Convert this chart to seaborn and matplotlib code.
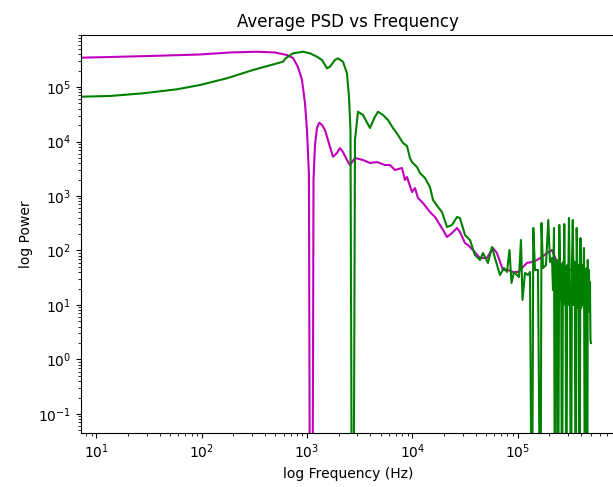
import matplotlib
matplotlib.use("Agg")
import matplotlib.pyplot as plt
import seaborn as sns
import pandas as pd

# ---- data (frequency in Hz, power) ----
magenta_freq = [7.13, 13.4, 32.2, 96, 185, 334, 496, 644, 735, 820, 895, 955, 998,
                1042, 1066, 1125, 1151, 1189, 1242, 1306, 1386, 1479, 1649, 1762,
                1923, 2052, 2193, 2393, 2553, 2851, 3396, 3958, 4613, 5495, 6124,
                6839, 7963, 8511, 8892, 9908, 10590, 11300, 12620, 14690, 16400,
                18280, 19540, 21330, 23780, 26540, 28320, 31620, 33750, 37590,
                43850, 51050, 58210, 63530, 72440, 80840, 90160, 100700, 109900,
                122500, 136700, 152500, 170100, 189800, 211800, 236100, 269200,
                314000, 365600, 416900, 465600]
magenta_power = [345000, 355000, 371000, 395000, 430000, 444000, 430000, 386000,
                 340000, 233000, 134000, 50800, 16300, 2430, 1e-4, 1e-4, 1970,
                 8630, 17700, 22100, 20100, 16300, 8030, 5260, 6150, 7600, 6420,
                 4580, 3700, 4980, 4580, 4030, 4200, 3700, 3700, 3000, 3260, 1970,
                 2230, 1180, 1400, 919, 744, 508, 412, 294, 238, 177, 209, 259, 218,
                 137, 126, 102, 72.8, 72.8, 111, 90, 43.9, 43.9, 40.4, 40.4, 47.7,
                 59, 61.5, 67, 76, 90, 102, 61.5, 54.2, 43.9, 49.8, 32.7, 25.4]

green_freq = [7.13, 13.4, 27.6, 58.1, 96, 173, 306, 518, 590, 630,
              658, 735, 802, 914, 1066, 1242, 1386, 1545, 1649, 1841,
              1965, 2193, 2393, 2500, 2584, 2670, 2759, 2851, 3044, 3396,
              3958, 4414, 4713, 5258, 5866, 6543, 7300, 8144, 8892, 9490,
              9908, 11060, 11810, 13170, 14690, 15700, 17510, 19100, 21330, 23780,
              26540, 28320, 31620, 35240, 39310, 43850, 46820, 52240, 57020, 60860,
              67910, 74120, 79130, 83600, 87330, 92230, 98480, 102900, 107500,
              111100, 117300, 125300, 130900, 136700, 140700, 146000, 155900,
              164700, 168300, 173900, 185700, 195300, 202700,
              211800, 216480, 218860, 221270, 226100, 229590, 233600, 237200,
              241400, 248400, 252200, 255000, 258900, 263400, 269200, 272800,
              277100, 281400, 285100, 289400, 295800, 300400, 307000, 314000,
              320700, 327800, 333600, 342400, 348400, 355400, 363300, 368100,
              373600, 380200, 386100, 394700, 400800, 407900, 416900, 426200,
              435700, 441500, 445300, 451200, 458100, 463100, 469200, 475500,
              481800, 486000, 491300, 496600]
green_power = [66400, 68400, 76600, 90800, 108800, 144400, 205000, 272000, 291000, 340000,
               360000, 415000, 426000, 444000, 415000, 360000, 313000, 220000, 236000, 313000,
               336000, 291000, 178000, 66400, 16300, 1e-4, 1e-4, 10650, 35200, 30650,
               17690, 28500, 35200, 30650, 24800, 17690, 13160, 9390, 8270, 4980,
               4200, 3400, 2640, 2140, 1460, 845, 628, 508, 270, 294,
               412, 395, 192, 156, 82.7, 67, 90, 59, 116, 72.8,
               35.5, 47.7, 40.4, 102, 25.4, 40.4, 35.5, 32.7, 156,
               12.4, 38.7, 35.5, 40.4, 1e-4, 259, 43.9, 43.9,
               1e-4, 320, 47.7, 54.2, 363, 61.5,
               72.8, 18.8, 61.5, 259, 1e-4, 61.5, 18.8, 67,
               1e-4, 294, 61.5, 12.4, 54.2, 1e-4, 61.5, 10,
               306, 12.4, 47.7, 1e-4, 54.2, 10, 395, 10,
               1e-4, 54.2, 363, 10, 61.5, 1e-4, 259, 47.7,
               8.8, 54.2, 1e-4, 169, 8.8, 54.2, 10, 111,
               1e-4, 43.9, 10, 47.7, 1e-4, 67, 8.1, 43.9,
               7.45, 26.4, 2.28, 2.0]

df_m = pd.DataFrame({"freq": magenta_freq, "power": magenta_power})
df_g = pd.DataFrame({"freq": green_freq, "power": green_power})

W, H = 613, 487
fig = plt.figure(figsize=(W / 100, H / 100), dpi=100)
ax = fig.add_axes([81 / W, (H - 433) / H, (615 - 81) / W, (433 - 35) / H])
ax.set_xscale("log")
ax.set_yscale("log")

sns.lineplot(data=df_m, x="freq", y="power", color="m", estimator=None,
             sort=False, linewidth=1.5, ax=ax)
sns.lineplot(data=df_g, x="freq", y="power", color="g", estimator=None,
             sort=False, linewidth=1.5, ax=ax)

ax.set_xlim(7.13, 8.4e5)
ax.set_ylim(0.0448, 9.0e5)
ax.set_title("Average PSD vs Frequency", fontsize=12)
ax.set_xlabel("log Frequency (Hz)", fontsize=10)
ax.set_ylabel("log Power", fontsize=10)

fig.savefig("out.png", dpi=100)
